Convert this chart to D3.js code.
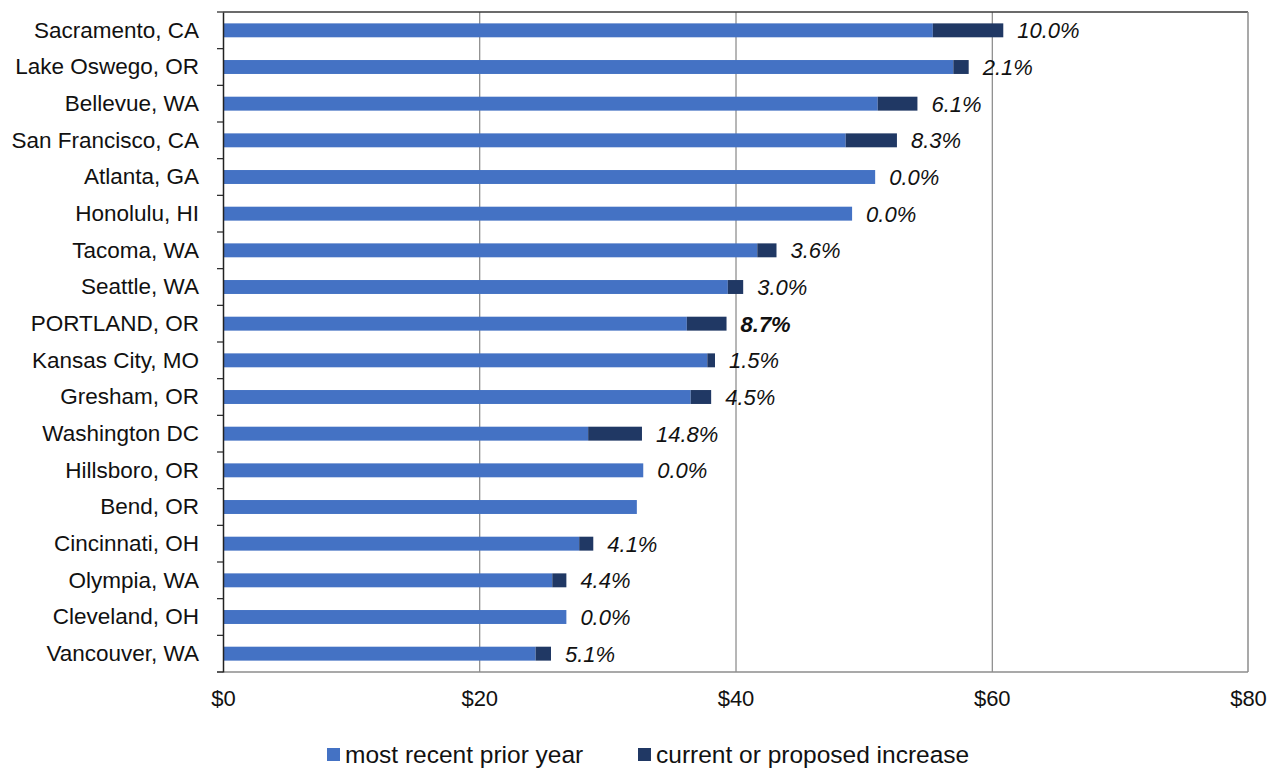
<!DOCTYPE html>
<html>
<head>
<meta charset="utf-8">
<script src="https://cdn.jsdelivr.net/npm/d3@7/dist/d3.min.js"></script>
<style>
  body { margin: 0; background: #fff; }
  svg { font-family: "Liberation Sans", Arial, sans-serif; }
</style>
</head>
<body>
<div id="chart"></div>
<script>
// data
let cities = ["Sacramento, CA", "Lake Oswego, OR", "Bellevue, WA", "San Francisco, CA", "Atlanta, GA",
  "Honolulu, HI", "Tacoma, WA", "Seattle, WA", "PORTLAND, OR", "Kansas City, MO", "Gresham, OR",
  "Washington DC", "Hillsboro, OR", "Bend, OR", "Cincinnati, OH", "Olympia, WA", "Cleveland, OH", "Vancouver, WA"];
let priorYear = [55.4, 57.0, 51.1, 48.6, 50.9, 49.1, 41.7, 39.4, 36.2, 37.8, 36.5, 28.5, 32.8, 32.3, 27.8, 25.7, 26.8, 24.4];
let increase  = [5.5, 1.2, 3.1, 4.0, 0, 0, 1.5, 1.2, 3.1, 0.6, 1.6, 4.2, 0, 0, 1.1, 1.1, 0, 1.2];
let pctLabels = ["10.0%", "2.1%", "6.1%", "8.3%", "0.0%", "0.0%", "3.6%", "3.0%", "8.7%", "1.5%", "4.5%",
  "14.8%", "0.0%", "", "4.1%", "4.4%", "0.0%", "5.1%"];
let xTicks = [0, 20, 40, 60, 80];
let seriesNames = ["most recent prior year", "current or proposed increase"];
let colors = ["#4472C4", "#203864"];
let boldCity = "PORTLAND, OR";

let W = 1274, H = 770;
let plot = {left: 223, right: 1248, top: 12, bottom: 672};

let rows = cities.map((c, i) => ({city: c, prior: priorYear[i], inc: increase[i], pct: pctLabels[i]}));

let svg = d3.select("#chart").append("svg").attr("width", W).attr("height", H);

let x = d3.scaleLinear().domain([0, 80]).range([plot.left, plot.right]);
let y = d3.scaleBand().domain(cities).range([plot.top, plot.bottom])
  .paddingInner(0.62).paddingOuter(0.31);

// vertical grid lines
svg.append("g")
  .attr("transform", "translate(0," + plot.bottom + ")")
  .call(d3.axisBottom(x).tickValues(xTicks.slice(1, -1)).tickSize(-(plot.bottom - plot.top)).tickFormat(""))
  .call(g => g.select(".domain").remove())
  .call(g => g.selectAll("line").attr("stroke", "#6f6f6f"));

// frame: top dark, right & bottom gray
svg.append("line").attr("x1", plot.left).attr("x2", plot.right).attr("y1", plot.top).attr("y2", plot.top)
  .attr("stroke", "#3a3a3a").attr("stroke-width", 1.5);
svg.append("line").attr("x1", plot.right).attr("x2", plot.right).attr("y1", plot.top).attr("y2", plot.bottom)
  .attr("stroke", "#8c8c8c").attr("stroke-width", 1.5);
svg.append("line").attr("x1", plot.left - 6).attr("x2", plot.right).attr("y1", plot.bottom).attr("y2", plot.bottom)
  .attr("stroke", "#8c8c8c").attr("stroke-width", 1.5);

// bars
let row = svg.append("g").selectAll("g").data(rows).enter().append("g");

row.append("rect")
  .attr("x", x(0))
  .attr("y", d => y(d.city))
  .attr("width", d => x(d.prior) - x(0))
  .attr("height", y.bandwidth())
  .attr("fill", colors[0]);

row.filter(d => d.inc > 0).append("rect")
  .attr("x", d => x(d.prior))
  .attr("y", d => y(d.city))
  .attr("width", d => x(d.prior + d.inc) - x(d.prior))
  .attr("height", y.bandwidth())
  .attr("fill", colors[1]);

row.append("text")
  .attr("x", d => x(d.prior + d.inc) + 14)
  .attr("y", d => y(d.city) + y.bandwidth() / 2)
  .attr("dy", "0.36em")
  .attr("font-size", 22)
  .attr("font-style", "italic")
  .attr("font-weight", d => d.city == boldCity ? "bold" : "normal")
  .attr("fill", "#111")
  .text(d => d.pct);

// left axis
let yAxis = svg.append("g")
  .attr("transform", "translate(" + plot.left + ",0)")
  .call(d3.axisLeft(y).tickSize(0).tickPadding(24));
yAxis.select(".domain").attr("stroke", "#222").attr("stroke-width", 1.5);
yAxis.selectAll("text").attr("font-size", 22.5).attr("fill", "#111").attr("font-family", null);

// ticks at band boundaries
let bounds = cities.map(c => y(c) - y.step() * y.paddingInner() / 2);
bounds.push(plot.bottom);
svg.append("g").selectAll("line").data(bounds).enter().append("line")
  .attr("x1", plot.left - 6).attr("x2", plot.left)
  .attr("y1", d => d).attr("y2", d => d)
  .attr("stroke", "#222").attr("stroke-width", 1.2);

// bottom axis labels
let xAxis = svg.append("g")
  .attr("transform", "translate(0," + plot.bottom + ")")
  .call(d3.axisBottom(x).tickValues(xTicks).tickSize(0).tickPadding(18).tickFormat(d => "$" + d));
xAxis.select(".domain").remove();
xAxis.selectAll("text").attr("font-size", 22).attr("fill", "#111").attr("font-family", null);

// legend
let legendX = [327, 638];
let legend = svg.append("g").selectAll("g").data(seriesNames).enter().append("g")
  .attr("transform", (d, i) => "translate(" + legendX[i] + ",755)");
legend.append("rect").attr("x", 0).attr("y", -7).attr("width", 13).attr("height", 13)
  .attr("fill", (d, i) => colors[i]);
legend.append("text").attr("x", 18).attr("dy", "0.34em").attr("font-size", 24.5).attr("fill", "#111")
  .text(d => d);
</script>
</body>
</html>
